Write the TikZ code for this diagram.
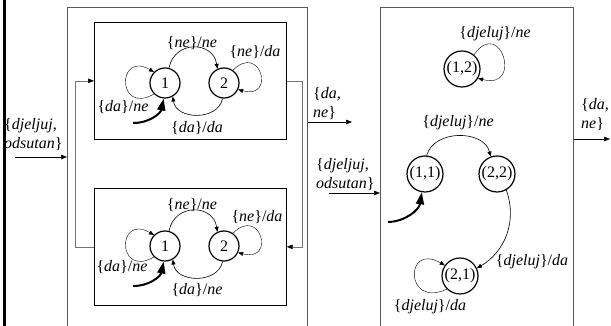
\documentclass[tikz,border=0pt]{standalone}
\usepackage{fontspec}
\setmainfont{Liberation Serif}
\usetikzlibrary{arrows.meta}
\newcommand{\trlab}[2]{\{\textit{#1}\}/\textit{#2}}

\begin{document}
\begin{tikzpicture}[x=1pt,y=1pt,font=\fontsize{16}{19}\selectfont,
	state/.style={draw, circle, line width=1.2pt, minimum size=30pt, inner sep=0pt},
	pair/.style={draw, circle, line width=1.2pt, minimum size=36pt, inner sep=0pt},
	outerbox/.style={draw=black!65, line width=0.8pt, minimum width=#1, minimum height=340pt, anchor=north west, inner sep=0pt},
	machine/.style={draw, line width=0.7pt, minimum width=192pt, minimum height=117pt, anchor=north west, inner sep=0pt},
	lab/.style={inner sep=0pt},
	edge/.style={-{Triangle[length=5pt,width=4pt]}, line width=0.6pt},
	selfloop/.style={-{Triangle[length=5pt,width=4pt]}, line width=0.4pt},
	init/.style={-{Triangle[length=12pt,width=8pt]}, line width=2pt},
	fb/.style={draw=black!55, line width=0.6pt, -{Triangle[length=6pt,width=4.5pt,color=black]}},
	io/.style={-{Triangle[length=6pt,width=4.5pt]}, line width=0.6pt}]
			\useasboundingbox (0,0) rectangle (611,326);
			\clip (0,0) rectangle (611,326);
			\draw[line width=3pt] (4,0) -- (4,326);
		
			\node[outerbox=240pt] (left) at (67,319) {};
			\node[outerbox=193pt] (right) at (380,319) {};
			\node[machine] (mA) at (94,304) {};
			\node[machine] (mB) at (94,138) {};
		
			\node[state] (a1) at (165,243) {1};
			\node[state] (a2) at (224,243) {2};
			\node[state] (b1) at (165,80) {1};
			\node[state] (b2) at (224,80) {2};
		
			\node[pair] (s12) at (462,257) {(1,2)};
			\node[pair] (s11) at (425,152) {(1,1)};
			\node[pair] (s22) at (497,152) {(2,2)};
			\node[pair] (s21) at (460,50) {(2,1)};
		
			\draw[edge] (a1.75) to [bend left = 80, looseness = 1.5] (a2.115);
			\draw[edge] (a2.-95) to [bend left = 80, looseness = 1.2] (a1.-60);
			\draw[selfloop] (a1.225) to [out = 210, in = 150, looseness = 5] (a1.135);
			\draw[selfloop] (a2.55) to [out = 45, in = -15, looseness = 5] (a2.-25);
			\coordinate (ia) at (133,203);
			\draw[init] (ia) to [bend right = 40] (a1.-95);
			\node[lab] (la1) at (192,283) {\trlab{ne}{ne}};
			\node[lab] (la2) at (255,274) {\trlab{ne}{da}};
			\node[lab] (la3) at (123,219) {\trlab{da}{ne}};
			\node[lab] (la4) at (197,198) {\trlab{da}{da}};
		
			\draw[edge] (b1.75) to [bend left = 80, looseness = 1.5] (b2.115);
			\draw[edge] (b2.-95) to [bend left = 80, looseness = 1.2] (b1.-60);
			\draw[selfloop] (b1.225) to [out = 210, in = 150, looseness = 5] (b1.135);
			\draw[selfloop] (b2.55) to [out = 45, in = -15, looseness = 5] (b2.-25);
			\coordinate (ib) at (133,40);
			\draw[init] (ib) to [bend right = 40] (b1.-95);
			\node[lab] (lb1) at (192,121) {\trlab{ne}{ne}};
			\node[lab] (lb2) at (257,109) {\trlab{ne}{da}};
			\node[lab] (lb3) at (122,59) {\trlab{da}{ne}};
			\node[lab] (lb4) at (197,36) {\trlab{da}{ne}};
		
			\draw[fb] (mA.east) -- ++(16,0) |- (mB.east);
			\draw[fb] (mB.west) -- ++(-19,0) |- (mA.west);
		
			\draw[selfloop] (s12.50) to [out = 55, in = -15, looseness = 5] (s12.-30);
			\draw[edge] (s11.85) to [bend left = 75, looseness = 1.1] (s22.110);
			\draw[edge] (s22.-60) to [out = -70, in = 30] (s21.25);
			\draw[selfloop] (s21.225) to [out = 205, in = 150, looseness = 5] (s21.145);
			\coordinate (is) at (388,104);
			\draw[init] (is) to [bend right = 40] (s11.-100);
			\node[lab] (ls1) at (495,292) {\trlab{djeluj}{ne}};
			\node[lab] (ls2) at (458,203) {\trlab{djeluj}{ne}};
			\node[lab] (ls3) at (532,64) {\trlab{djeluj}{da}};
			\node[lab] (ls4) at (430,19) {\trlab{djeluj}{da}};
		
			\coordinate (lin) at (15,169);
			\draw[io] (lin) -- (lin -| left.west);
			\node[lab, align=left, anchor=west] (linlab) at (4,191) {\{\textit{djeljuj,}\\\textit{odsutan}\}};
			\coordinate (lout) at (352,204);
			\draw[io] (lout -| left.east) -- (lout);
			\node[lab, align=left, anchor=west] (loutlab) at (313,222) {\{\textit{da,}\\\textit{ne}\}};
			\coordinate (rin) at (329,133);
			\draw[io] (rin) -- (rin -| right.west);
			\node[lab, align=left, anchor=west] (rinlab) at (316,151) {\{\textit{djeljuj,}\\\textit{odsutan}\}};
			\coordinate (rout) at (610,187);
			\draw[io] (rout -| right.east) -- (rout);
			\node[lab, align=left, anchor=west] (routlab) at (581,211) {\{\textit{da,}\\\textit{ne}\}};
		\end{tikzpicture}
\end{document}
